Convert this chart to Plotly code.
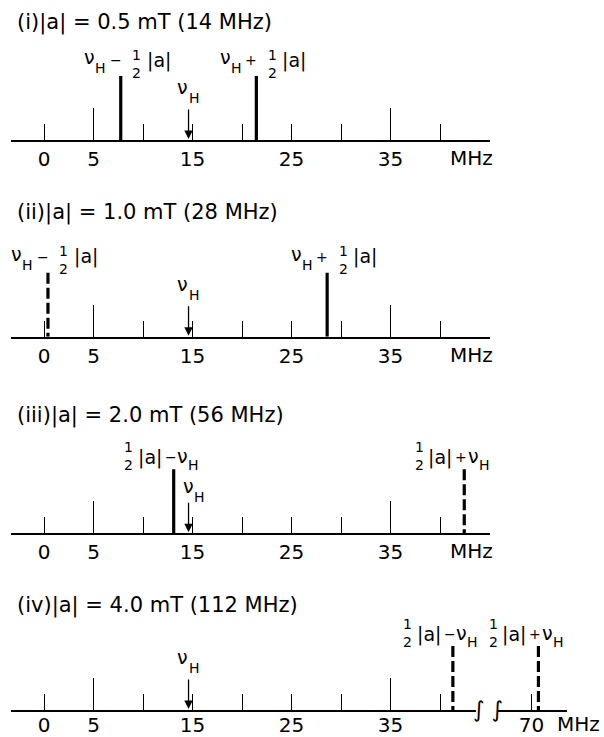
import plotly.graph_objects as go

# ---------------- data ----------------
titles = ["(i)|a| = 0.5 mT (14 MHz)",
          "(ii)|a| = 1.0 mT (28 MHz)",
          "(iii)|a| = 2.0 mT (56 MHz)",
          "(iv)|a| = 4.0 mT (112 MHz)"]
nu_H = 14.6                                   # MHz (arrow)
line_pos = [[7.75, 21.45], [0.4, 28.6], [13.1, 42.45], [41.3, 70.7]]   # MHz
line_int = [[1.0, 1.0], [1.0, 1.0], [1.0, 1.0], [1.0, 1.0]]
line_phase = [["pos", "pos"], ["neg", "pos"], ["pos", "neg"], ["neg", "neg"]]
line_form = [["nu-", "nu+"], ["nu-", "nu+"], ["half-", "half+"], ["half-", "half+"]]
tick_vals = [0, 5, 10, 15, 20, 25, 30, 35, 40]
tick_text = ["0", "5", "", "15", "", "25", "", "35", ""]
long_tick_vals = [5, 35]
far_tick_vals = [70]
far_tick_text = ["70"]
unit = "MHz"
arrow_height = 0.5

# ---------------- geometry ----------------
W, H = 604, 737
FONT = "DejaVu Sans"
X0_PX, PX_PER = 44.0, 9.9
FAR_REF_PX = 531.5          # pixel of 70 MHz
baselines = [140, 336.7, 533.3, 710]
label_gap = [18, 18, 18, 14]
standoff = [0, 0, 0, -4]
title_y = [23, 212, 415, 605]
PANEL_H = 85.0
Y_MAX = PANEL_H / 64.0
main_range = [[-3.3, 45.0], [-3.3, 45.0], [-3.3, 45.0], [-3.3, 43.6]]
far_range = [66.5, 73.6]


def px(v):
    return X0_PX + PX_PER * v


def far_px(v):
    return FAR_REF_PX + PX_PER * (v - 70)


fig = go.Figure()
layout = {}


def xname(i):
    return "x" if i == 1 else f"x{i}"


def yname(i):
    return "y" if i == 1 else f"y{i}"


def axis_style(so):
    return dict(showgrid=False, zeroline=False, ticks="inside", ticklen=16,
                tickwidth=1.3, tickcolor="black", showline=True,
                linecolor="black", linewidth=2, fixedrange=True, automargin=False,
                tickfont=dict(family=FONT, size=20, color="black"),
                ticklabelstandoff=so)


for k in range(4):
    b = baselines[k]
    yk = k + 1
    layout["yaxis" if yk == 1 else f"yaxis{yk}"] = dict(
        domain=[1 - b / H, 1 - (b - PANEL_H) / H], range=[0, Y_MAX],
        visible=False, fixedrange=True, automargin=False)
    r = main_range[k]
    layout["xaxis" if yk == 1 else f"xaxis{yk}"] = dict(
        domain=[px(r[0]) / W, px(r[1]) / W], range=r, anchor=yname(yk),
        tickmode="array", tickvals=tick_vals, ticktext=tick_text,
        **axis_style(standoff[k]))
    # overlay axis for the long ticks
    ov = 6 + k
    layout[f"xaxis{ov}"] = dict(
        overlaying=xname(yk), anchor=yname(yk), side="bottom", range=r,
        tickmode="array", tickvals=long_tick_vals, showticklabels=False,
        ticks="inside", ticklen=32, tickwidth=1.3, tickcolor="black",
        showline=False, showgrid=False, zeroline=False, fixedrange=True,
        automargin=False)
    fig.add_trace(go.Scatter(x=[], y=[], xaxis=xname(ov), yaxis=yname(yk),
                             showlegend=False))

# far segment of panel (iv)
layout["xaxis5"] = dict(domain=[far_px(far_range[0]) / W, far_px(far_range[1]) / W],
                        range=far_range, anchor="y4", tickmode="array",
                        tickvals=far_tick_vals, ticktext=far_tick_text,
                        **axis_style(standoff[3]))

annotations = []


def add_txt(text, x, y, xref, yref, dx, dy, size, xanchor="center"):
    annotations.append(dict(text=text, x=x, y=y, xref=xref, yref=yref,
                            xshift=dx, yshift=dy, showarrow=False,
                            xanchor=xanchor, yanchor="middle", borderpad=0,
                            font=dict(family=FONT, size=size, color="black")))


def label_parts(form):
    sign = "−" if form.endswith("-") else "+"
    if form.startswith("nu"):
        return [("ν", -31, 19, 19), ("H", -20, 8, 14), (sign, -5, 16, 14),
                ("1<br>2", 16, 12.5, 14), ("|a|", 38, 16, 19)]
    return [("1<br>2", -45, 13, 14), ("|a|", -24, 12, 19),
            (sign, -3, 12, 14), ("ν", 9, 13, 19), ("H", 20, 4, 14)]


for k in range(4):
    yk = k + 1
    for j, pos in enumerate(line_pos[k]):
        far = (k == 3 and pos > main_range[3][1])
        xa = "x5" if far else xname(yk)
        dash = "solid" if line_phase[k][j] == "pos" else "11px,4px"
        fig.add_trace(go.Scatter(
            x=[pos, pos], y=[line_int[k][j], 0], mode="lines",
            line=dict(color="black", width=3.2, dash=dash),
            xaxis=xa, yaxis=yname(yk), showlegend=False, hoverinfo="skip"))
        for t, dx, dy, s in label_parts(line_form[k][j]):
            add_txt(t, pos, line_int[k][j], xa, yname(yk), dx, dy, s)
    # nu_H arrow
    annotations.append(dict(text="", x=nu_H, y=0, ax=nu_H, ay=arrow_height,
                            xref=xname(yk), yref=yname(yk),
                            axref=xname(yk), ayref=yname(yk),
                            showarrow=True, arrowhead=2, arrowsize=1.3,
                            arrowwidth=1.3, arrowcolor="black", standoff=1))
    if k == 2:
        parts = [("ν", 0, 15, 19), ("H", 11, 4, 14)]
    else:
        parts = [("ν", -6, 21, 19), ("H", 6, 10, 14)]
    for t, dx, dy, s in parts:
        add_txt(t, nu_H, arrow_height, xname(yk), yname(yk), dx, dy, s)
    # title
    add_txt(titles[k], 16 / W, 1 - title_y[k] / H, "paper", "paper", 0, 0, 21,
            xanchor="left")
    # unit
    ux = 471 if k < 3 else 578
    add_txt(unit, ux / W, 1 - (baselines[k] + label_gap[k]) / H, "paper", "paper",
            0, 0, 20)

# axis break symbol
add_txt("∫ ∫", 488 / W, 1 - (baselines[3] - 1) / H, "paper", "paper", 0, 0, 22)

fig.update_layout(width=W, height=H, margin=dict(l=0, r=0, t=0, b=0, autoexpand=False),
                  paper_bgcolor="white", plot_bgcolor="white",
                  showlegend=False, annotations=annotations, **layout)
fig.write_html("out.html", config={"displayModeBar": False},
               post_script="document.body.style.margin='0px';"
                           "document.documentElement.style.overflow='hidden';")
